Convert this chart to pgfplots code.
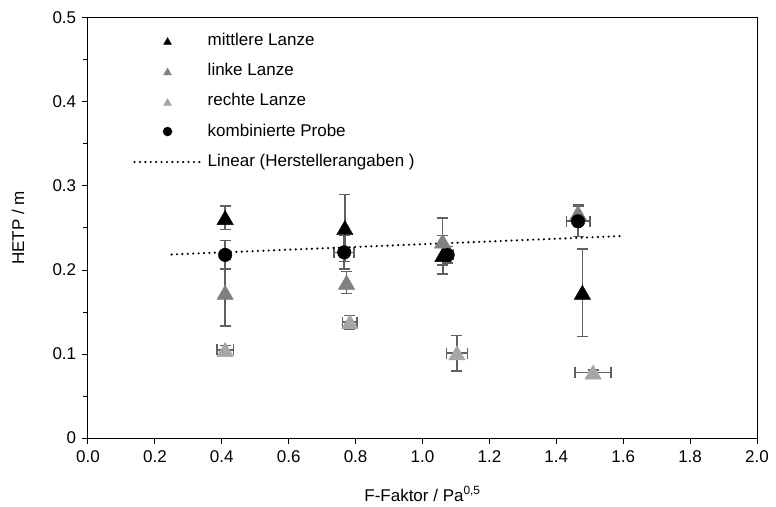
\documentclass[border=0pt]{standalone}
\usepackage{fontspec}
\setmainfont{Liberation Sans}
\usepackage{pgfplots}
\pgfplotsset{compat=1.18}
\usepackage{pgfplotstable}
\definecolor{errc}{HTML}{606060}
\definecolor{midgray}{HTML}{808080}
\definecolor{lgray}{HTML}{A6A6A6}

\pgfplotstableread{
x y ex ey
0.410 0.262 0 0.014
0.768 0.250 0 0.040
1.061 0.218 0 0.023
1.478 0.173 0 0.052
}\mittlere
\pgfplotstableread{
x y ex ey
0.410 0.173 0 0.040
0.773 0.185 0 0.013
1.060 0.234 0 0.028
1.465 0.268 0 0.010
}\linke
\pgfplotstableread{
x y ex ey
0.410 0.105 0.025 0.005
0.783 0.138 0.022 0.008
1.103 0.101 0.031 0.021
1.510 0.078 0.054 0.003
}\rechte
\pgfplotstableread{
x y ex ey
0.410 0.218 0.000 0.017
0.766 0.221 0.030 0.020
1.075 0.218 0.018 0.010
1.465 0.258 0.035 0.018
}\kombi
\pgfplotstableread{
x y
0.25 0.2185
1.60 0.2405
}\trend

\begin{document}
\fontsize{17}{20}\selectfont
\begin{tikzpicture}
\begin{axis}[
  at={(0pt,0pt)}, anchor=south west,
  scale only axis, width=669pt, height=420pt,
  xmin=0, xmax=2, ymin=0, ymax=0.5,
  xtick={0,0.2,0.4,0.6,0.8,1.0,1.2,1.4,1.6,1.8,2.0},
  xticklabels={0.0,0.2,0.4,0.6,0.8,1.0,1.2,1.4,1.6,1.8,2.0},
  ytick={0,0.1,0.2,0.3,0.4,0.5},
  yticklabels={0,0.1,0.2,0.3,0.4,0.5},
  minor ytick={0.05,0.15,0.25,0.35,0.45},
  tick align=outside, tick pos=left,
  major tick length=6pt, minor tick length=5pt,
  axis line style={line width=1pt, black},
  every tick/.style={line width=1pt, black},
  xticklabel style={yshift=-1pt},
  xlabel={F-Faktor / Pa\textsuperscript{0,5}},
  ylabel={HETP / m},
  xlabel style={at={(axis description cs:0.5,0)}, anchor=center, yshift=-56pt},
  ylabel style={at={(axis description cs:0,0.5)}, anchor=center, yshift=70pt},
  legend image code/.code={\draw[mark repeat=2,mark phase=2,#1,mark size=4.5pt] plot coordinates {(0pt,0pt) (33pt,0pt) (70pt,0pt)};},
  legend style={draw=none, fill=none, at={(axis description cs:0.063,0.975)}, anchor=north west,
    row sep=11.6pt, nodes={inner sep=2pt}},
  legend cell align=left,
]
\addplot[only marks, black, mark=triangle*, mark size=9.5pt, mark options={fill=black, draw=black, yshift=-2pt},
  error bars/.cd, y dir=both, y explicit,
  error bar style={errc, line width=1.6pt},
  error mark options={rotate=90, errc, line width=1.6pt, mark size=5.5pt}]
  table[x=x, y=y, y error=ey]{\mittlere};
\addlegendentry{mittlere Lanze}
\addplot[only marks, midgray, mark=triangle*, mark size=9.5pt, mark options={fill=midgray, draw=midgray, yshift=-2pt},
  error bars/.cd, y dir=both, y explicit,
  error bar style={errc, line width=1.6pt},
  error mark options={rotate=90, errc, line width=1.6pt, mark size=5.5pt}]
  table[x=x, y=y, y error=ey]{\linke};
\addlegendentry{linke Lanze}
\addplot[only marks, lgray, mark=triangle*, mark size=9.5pt, mark options={fill=lgray, draw=lgray, yshift=-2pt},
  error bars/.cd, y dir=both, y explicit, x dir=both, x explicit,
  error bar style={errc, line width=1.6pt},
  error mark options={rotate=90, errc, line width=1.6pt, mark size=5.5pt}]
  table[x=x, y=y, x error=ex, y error=ey]{\rechte};
\addlegendentry{rechte Lanze}
\addplot[only marks, black, mark=*, mark size=6.8pt, mark options={fill=black, draw=black},
  error bars/.cd, y dir=both, y explicit, x dir=both, x explicit,
  error bar style={errc, line width=1.6pt},
  error mark options={rotate=90, errc, line width=1.6pt, mark size=5.5pt}]
  table[x=x, y=y, x error=ex, y error=ey]{\kombi};
\addlegendentry{kombinierte Probe}
\addplot[no marks, black, line width=2.4pt, line cap=round, dash pattern=on 0pt off 5.4pt]
  table[x=x, y=y]{\trend};
\addlegendentry{Linear (Herstellerangaben )}
\end{axis}
\pgfresetboundingbox
\path[use as bounding box] (-88pt,-68pt) rectangle (688pt,438pt);
\end{tikzpicture}
\end{document}
